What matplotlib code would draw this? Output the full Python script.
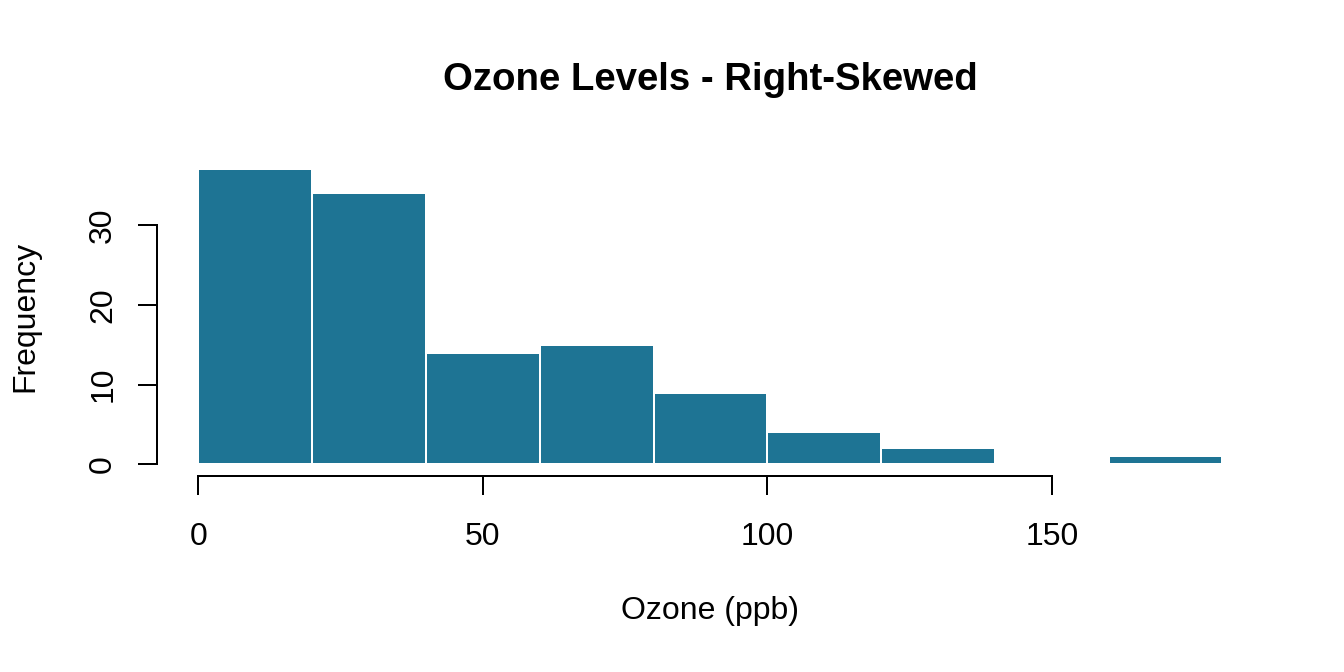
import numpy as np
import matplotlib.pyplot as plt

# Ozone histogram counts (bins of 20 ppb)
bin_edges = [0, 20, 40, 60, 80, 100, 120, 140, 160, 180]
counts = [37, 34, 14, 15, 9, 4, 2, 0, 1]
x_ticks = [0, 50, 100, 150]
y_ticks = [0, 10, 20, 30]

plt.rcParams['font.family'] = ['Liberation Sans', 'DejaVu Sans']
plt.rcParams['font.size'] = 12

fig = plt.figure(figsize=(7, 3.5), dpi=192)
W, H = 1344, 672
left, right, bottom, top = 157.4, 1263.4, 476.2, 157.4
ax = fig.add_axes([left / W, (H - bottom) / H, (right - left) / W, (bottom - top) / H])

widths = np.diff(bin_edges)
ax.bar(bin_edges[:-1], counts, width=widths, align='edge',
       color='#1e7494', edgecolor='white', linewidth=0.75)

ax.set_xlim(-7.2, 187.2)
ax.set_ylim(-1.48, 38.48)

for s in ['top', 'right']:
    ax.spines[s].set_visible(False)
ax.spines['left'].set_bounds(0, 30)
ax.spines['bottom'].set_bounds(0, 150)
for s in ['left', 'bottom']:
    ax.spines[s].set_linewidth(0.75)

ax.set_xticks(x_ticks)
ax.set_yticks(y_ticks)
ax.set_yticklabels([str(v) for v in y_ticks], rotation=90, va='center')
ax.tick_params(direction='out', length=7.2, width=0.75, labelsize=12)
ax.tick_params(axis='x', pad=10)
ax.tick_params(axis='y', pad=7.5)

ax.set_title('Ozone Levels - Right-Skewed', fontsize=14.4, fontweight='bold',
             y=(bottom - 80) / (bottom - top), va='center', pad=0)
ax.set_xlabel('Ozone (ppb)', va='center')
ax.xaxis.set_label_coords(0.5, (bottom - 611) / (bottom - top))
ax.set_ylabel('Frequency', va='center')
ax.yaxis.set_label_coords((25 - left) / (right - left), 0.5)

fig.savefig('out.png', dpi=192)
